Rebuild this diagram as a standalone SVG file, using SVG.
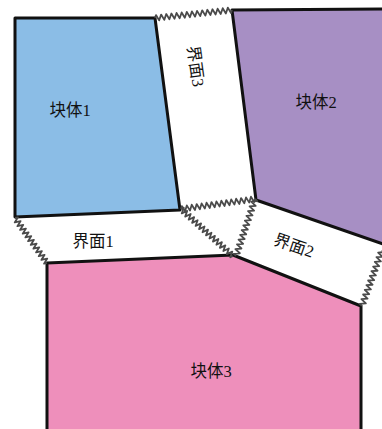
<svg xmlns="http://www.w3.org/2000/svg" width="382" height="429" viewBox="0 0 382 429">
<style>
.blk{stroke:#111;stroke-width:3;stroke-linejoin:round}
.zz{fill:none;stroke:#4a4a4a;stroke-width:1.8;stroke-linejoin:round;vector-effect:non-scaling-stroke}
.lbl{font-family:"Liberation Serif","Noto Sans CJK SC",serif;font-size:16.5px;fill:#111;text-anchor:middle}
</style>
<defs>
<path id="zig60" class="zz" d="M0,0 l1.25,-2.8 l2.5,5.6 l2.5,-5.6 l2.5,5.6 l2.5,-5.6 l2.5,5.6 l2.5,-5.6 l2.5,5.6 l2.5,-5.6 l2.5,5.6 l2.5,-5.6 l2.5,5.6 l2.5,-5.6 l2.5,5.6 l2.5,-5.6 l2.5,5.6 l2.5,-5.6 l2.5,5.6 l2.5,-5.6 l2.5,5.6 l2.5,-5.6 l2.5,5.6 l2.5,-5.6 l2.5,5.6 l1.25,-2.8"/>
<path id="zig75" class="zz" d="M0,0 l1.25,-2.8 l2.5,5.6 l2.5,-5.6 l2.5,5.6 l2.5,-5.6 l2.5,5.6 l2.5,-5.6 l2.5,5.6 l2.5,-5.6 l2.5,5.6 l2.5,-5.6 l2.5,5.6 l2.5,-5.6 l2.5,5.6 l2.5,-5.6 l2.5,5.6 l2.5,-5.6 l2.5,5.6 l2.5,-5.6 l2.5,5.6 l2.5,-5.6 l2.5,5.6 l2.5,-5.6 l2.5,5.6 l2.5,-5.6 l2.5,5.6 l2.5,-5.6 l2.5,5.6 l2.5,-5.6 l2.5,5.6 l1.25,-2.8"/>
</defs>
<rect width="382" height="429" fill="#fff"/>
<g id="block1">
<polygon class="blk" fill="#8bbde6" points="15,18 155,18 180,210 15,217"/>
<text class="lbl" x="70" y="116">块体1</text>
</g>
<g id="block2">
<polygon class="blk" fill="#a78fc4" points="232,10 386,9 386,245 256,200"/>
<text class="lbl" x="316" y="108">块体2</text>
</g>
<g id="block3">
<polygon class="blk" fill="#ee8fbb" points="47,263 233,255 361,306 361,432 47,432"/>
<text class="lbl" x="211" y="377">块体3</text>
</g>
<g id="interface1">
<text class="lbl" x="93" y="247">界面1</text>
</g>
<g id="interface2">
<text class="lbl" transform="translate(292,251) rotate(19)" x="0" y="0">界面2</text>
</g>
<g id="interface3">
<text class="lbl" transform="translate(190,67) rotate(82)" x="0" y="0">界面3</text>
</g>
<g id="connectors">
<use href="#zig75" transform="translate(155,18) rotate(-5.9) scale(1.032,1)"/>
<use href="#zig75" transform="translate(181,209) rotate(-7.7) scale(0.996,1)"/>
<use href="#zig60" transform="translate(15,218) rotate(54.6) scale(0.92,1)"/>
<use href="#zig75" transform="translate(181,209) rotate(42.1) scale(0.935,1)"/>
<use href="#zig60" transform="translate(255,199) rotate(108.4) scale(1.0,1)"/>
<use href="#zig60" transform="translate(382,250) rotate(109.7) scale(0.99,1)"/>
</g>
</svg>
